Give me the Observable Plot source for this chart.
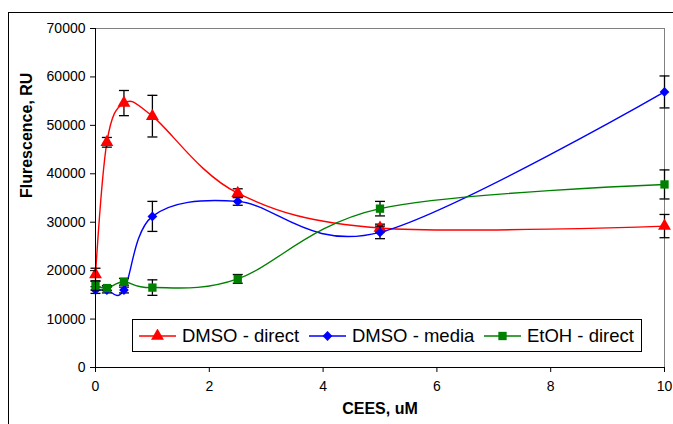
<!DOCTYPE html>
<html>
<head>
<meta charset="utf-8">
<script src="https://cdn.jsdelivr.net/npm/d3@7"></script>
<script src="https://cdn.jsdelivr.net/npm/@observablehq/plot@0.6"></script>
<style>
  html, body { margin: 0; padding: 0; background: #fff; overflow: hidden; }
  body { width: 673px; height: 424px; position: relative; font-family: "Liberation Sans", Arial, sans-serif; }
  #outer { position: absolute; left: 8px; top: 12px; width: 700px; height: 460px; border: 1px solid #000; }
  #chart { position: absolute; left: 0; top: 0; }
  #legend { position: absolute; left: 132px; top: 319px; width: 508px; height: 31px; border: 1px solid #000; background: #fff; }
  .item { position: absolute; top: 0; height: 31px; display: flex; align-items: center; font-size: 18.5px; color: #000; white-space: nowrap; }
  .item svg { margin-right: 6px; }
</style>
</head>
<body>
<div id="outer"></div>
<div id="chart"></div>
<div id="legend"></div>
<script>
// ---- data ----
const concentrations = [0, 0.2, 0.5, 1, 2.5, 5, 10];
const seriesNames = ["DMSO - direct", "DMSO - media", "EtOH - direct"];
const dmsoDirect = [19200, 46500, 54600, 51900, 36000, 28800, 29200];
const dmsoDirectErr = [1300, 1000, 2600, 4300, 900, 800, 2400];
const dmsoMedia = [16000, 16000, 16000, 31200, 34300, 27900, 56900];
const dmsoMediaErr = [700, 600, 600, 3100, 800, 1300, 3300];
const etohDirect = [16900, 16400, 17700, 16500, 18300, 32800, 37800];
const etohDirectErr = [900, 500, 700, 1600, 900, 1500, 3000];
const xTicks = [0, 2, 4, 6, 8, 10];
const yTicks = [0, 10000, 20000, 30000, 40000, 50000, 60000, 70000];

const colors = ["#FF0000", "#0000FF", "#008000"];
const symbols = ["triangle", "diamond2", "square"];
const radii = [4.8, 4.4, 4.7];

const allValues = [dmsoDirect, dmsoMedia, etohDirect];
const allErrs = [dmsoDirectErr, dmsoMediaErr, etohDirectErr];
const rows = [];
seriesNames.forEach((s, i) => concentrations.forEach((x, j) => {
  rows.push({series: s, si: i, x, y: allValues[i][j], lo: allValues[i][j] - allErrs[i][j], hi: allValues[i][j] + allErrs[i][j]});
}));

const capSymbol = {
  draw(ctx, size) {
    const r = Math.sqrt(size / Math.PI);
    ctx.moveTo(-r, 0);
    ctx.lineTo(r, 0);
  }
};

const font = '"Liberation Sans", Arial, sans-serif';
const marks = [
  Plot.frame({stroke: "#808080", strokeWidth: 1}),
];
seriesNames.forEach((s, i) => {
  const d = rows.filter(r => r.si === i);
  marks.push(
    Plot.line(d, {x: "x", y: "y", stroke: colors[i], strokeWidth: 1.4, curve: "cardinal"}),
    Plot.ruleX(d, {x: "x", y1: "lo", y2: "hi", stroke: "#000", strokeWidth: 1.3}),
    Plot.dot(d, {x: "x", y: "lo", symbol: capSymbol, r: 5, stroke: "#000", strokeWidth: 1.3, fill: "none"}),
    Plot.dot(d, {x: "x", y: "hi", symbol: capSymbol, r: 5, stroke: "#000", strokeWidth: 1.3, fill: "none"}),
    Plot.dot(d, {x: "x", y: "y", symbol: symbols[i], r: radii[i], fill: colors[i], stroke: "none"})
  );
});
marks.push(
  Plot.ruleX([0], {stroke: "#000", strokeWidth: 1}),
  Plot.ruleY([0], {stroke: "#000", strokeWidth: 1}),
  Plot.axisY({ticks: yTicks, tickFormat: d => String(d), tickSize: 5, tickPadding: 5, fontSize: 14, label: null, color: "#000"}),
  Plot.axisX({ticks: xTicks, tickFormat: d => String(d), tickSize: 5, tickPadding: 9, fontSize: 14, label: null, color: "#000"}),
  Plot.text(["CEES, uM"], {frameAnchor: "bottom", dy: 46, fontWeight: "bold", fontSize: 16, fill: "#000"}),
  Plot.text(["Flurescence, RU"], {frameAnchor: "left", dx: -69, rotate: -90, fontWeight: "bold", fontSize: 16, fill: "#000"})
);

const chart = Plot.plot({
  width: 673,
  height: 424,
  marginLeft: 95,
  marginRight: 9,
  marginTop: 28,
  marginBottom: 57,
  x: {domain: [0, 10]},
  y: {domain: [0, 70000]},
  style: {fontFamily: font, background: "transparent", color: "#000", overflow: "visible"},
  marks
});
document.getElementById("chart").appendChild(chart);

// ---- legend ----
const legend = document.getElementById("legend");
const lefts = [6, 176, 351];
seriesNames.forEach((s, i) => {
  const item = document.createElement("div");
  item.className = "item";
  item.style.left = lefts[i] + "px";
  const sw = d3.create("svg").attr("width", 37).attr("height", 14);
  sw.append("line").attr("x1", 0).attr("x2", 37).attr("y1", 7).attr("y2", 7).attr("stroke", colors[i]).attr("stroke-width", 1.4);
  const symMap = {triangle: d3.symbolTriangle, diamond2: d3.symbolDiamond2, square: d3.symbolSquare};
  sw.append("path").attr("transform", "translate(18.5,7)")
    .attr("d", d3.symbol(symMap[symbols[i]], Math.PI * radii[i] * radii[i])())
    .attr("fill", colors[i]);
  item.appendChild(sw.node());
  const t = document.createElement("span");
  t.textContent = s;
  item.appendChild(t);
  legend.appendChild(item);
});
</script>
</body>
</html>
